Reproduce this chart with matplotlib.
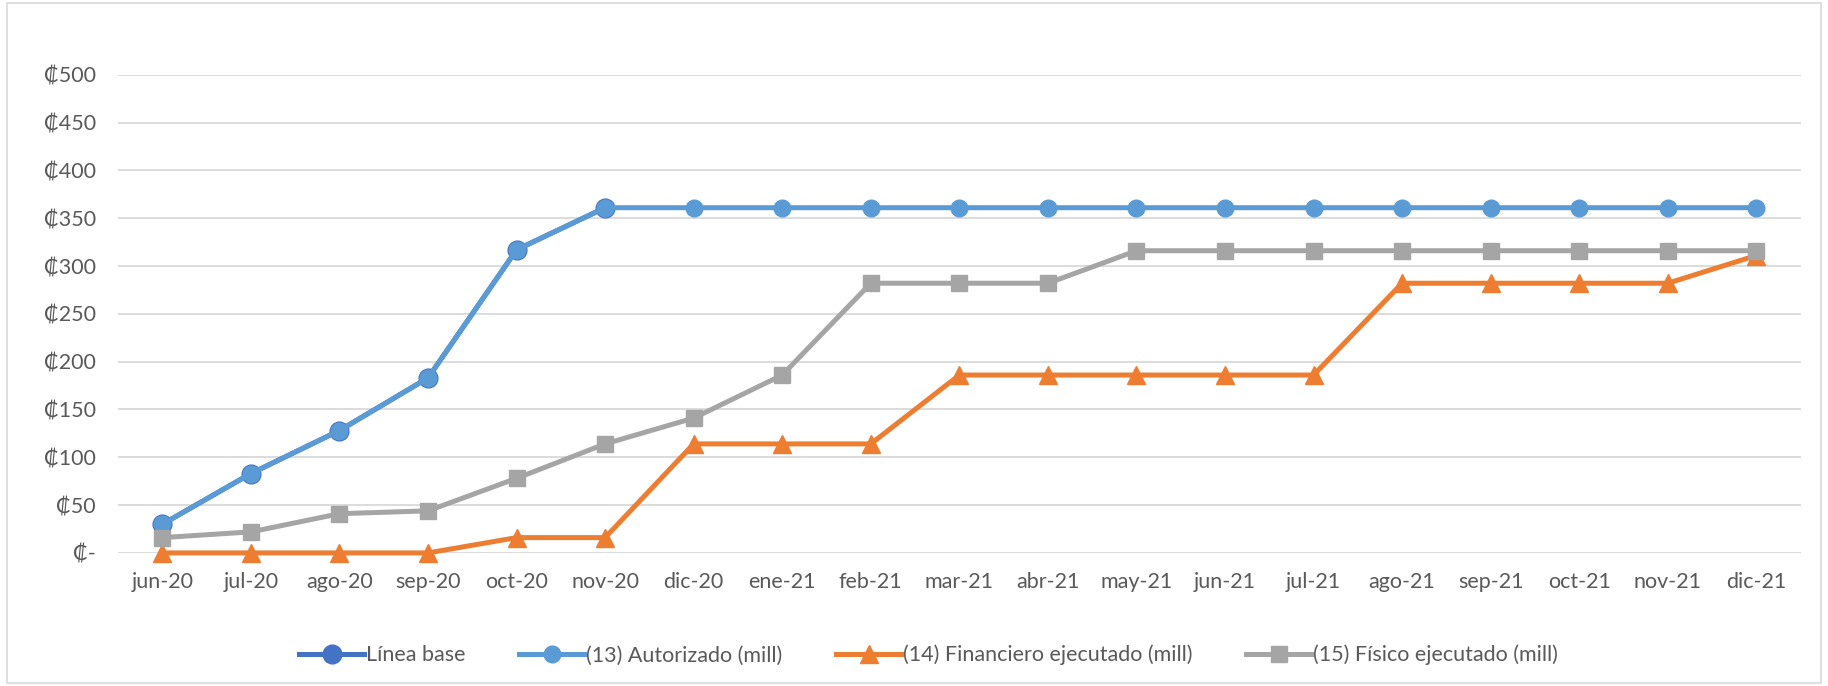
import matplotlib.pyplot as plt
from matplotlib.patches import Rectangle

# datos
meses = ['jun-20', 'jul-20', 'ago-20', 'sep-20', 'oct-20', 'nov-20', 'dic-20',
         'ene-21', 'feb-21', 'mar-21', 'abr-21', 'may-21', 'jun-21', 'jul-21',
         'ago-21', 'sep-21', 'oct-21', 'nov-21', 'dic-21']
linea_base = [30, 83, 128, 183, 317, 361]
autorizado = [30, 83, 128, 183, 317, 361, 361, 361, 361, 361, 361, 361, 361,
              361, 361, 361, 361, 361, 361]
financiero = [0, 0, 0, 0, 16, 16, 114, 114, 114, 186, 186, 186, 186, 186,
              282, 282, 282, 282, 311]
fisico = [16, 22, 41, 44, 78, 114, 141, 186, 282, 282, 282, 316, 316, 316,
          316, 316, 316, 316, 316]
yticks = [0, 50, 100, 150, 200, 250, 300, 350, 400, 450, 500]

plt.rcParams['font.family'] = ['Lato', 'DejaVu Sans']
txt = '#595959'
fs = 15.5

fig = plt.figure(figsize=(18.28, 6.86), dpi=100)
ax = fig.add_axes([0.0646, 0.194, 0.9204, 0.697])

x = list(range(len(meses)))
ax.plot(x[:len(linea_base)], linea_base, color='#4472C4', lw=3.6, marker='o',
        ms=13.5, label='Línea base', zorder=3, clip_on=False)
ax.plot(x, autorizado, color='#5B9BD5', lw=3.6, marker='o', ms=12,
        mec='#5B9BD5', label='(13) Autorizado (mill)', zorder=4, clip_on=False)
ax.plot(x, financiero, color='#ED7D31', lw=3.6, marker='^', ms=13,
        label='(14) Financiero ejecutado (mill)', zorder=5, clip_on=False)
ax.plot(x, fisico, color='#A5A5A5', lw=3.6, marker='s', ms=12,
        label='(15) Físico ejecutado (mill)', zorder=6, clip_on=False)

ax.set_xlim(-0.5, len(meses) - 0.5)
ax.set_ylim(0, 500)
ax.set_xticks(x)
ax.set_xticklabels(meses)
ax.set_yticks(yticks)
ax.set_yticklabels(['₡-' if v == 0 else '₡%d' % v for v in yticks])
ax.tick_params(length=0, labelsize=fs, colors=txt)
ax.tick_params(axis='x', pad=14)
ax.tick_params(axis='y', pad=16)
ax.grid(axis='y', color='#D9D9D9', lw=1.3)
ax.set_axisbelow(True)
for s in ax.spines.values():
    s.set_visible(False)

leg = fig.legend(loc='center', bbox_to_anchor=(0.508, 0.045), ncol=4,
                 frameon=False, fontsize=fs, handlelength=3.0,
                 columnspacing=2.5, handletextpad=0.1)
for t in leg.get_texts():
    t.set_color(txt)

fig.patches.append(Rectangle((0.004, 0.004), 0.992, 0.992, transform=fig.transFigure,
                             fill=False, edgecolor='#D9D9D9', lw=1.2))

fig.savefig('out.png', dpi=100, facecolor='white')
